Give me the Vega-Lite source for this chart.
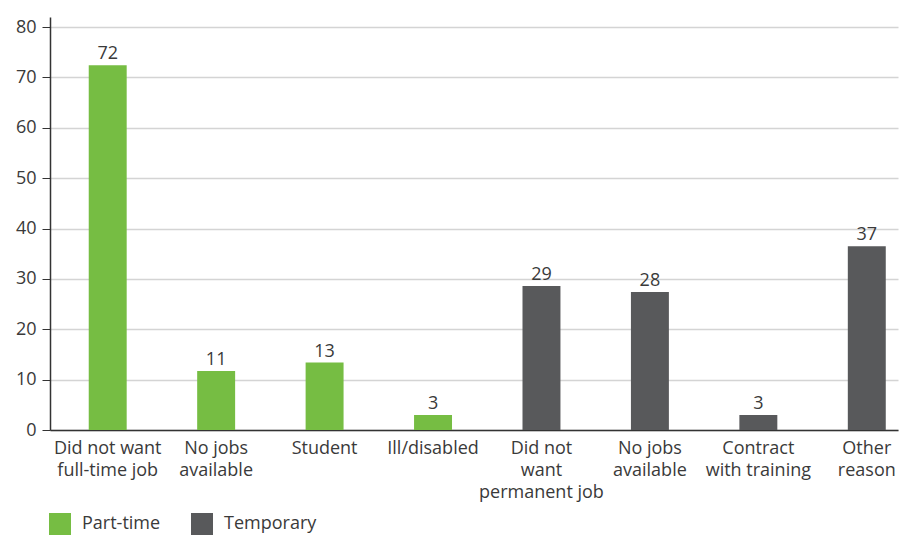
{
  "$schema": "https://vega.github.io/schema/vega-lite/v6.json",
  "autosize": "none",
  "width": 848,
  "height": 413,
  "padding": {"left": 50, "top": 17, "right": 3, "bottom": 105},
  "background": "white",
  "data": {
    "values": [
      {"key": "P1: Did not want|full-time job", "type": "Part-time", "value": 72.4, "label": "72"},
      {"key": "P2: No jobs|available", "type": "Part-time", "value": 11.7, "label": "11"},
      {"key": "P3: Student", "type": "Part-time", "value": 13.4, "label": "13"},
      {"key": "P4: Ill/disabled", "type": "Part-time", "value": 3.0, "label": "3"},
      {"key": "T1: Did not|want|permanent job", "type": "Temporary", "value": 28.6, "label": "29"},
      {"key": "T2: No jobs|available", "type": "Temporary", "value": 27.4, "label": "28"},
      {"key": "T3: Contract|with training", "type": "Temporary", "value": 3.0, "label": "3"},
      {"key": "T4: Other|reason", "type": "Temporary", "value": 36.5, "label": "37"}
    ]
  },
  "encoding": {
    "x": {
      "field": "key",
      "type": "nominal",
      "sort": null,
      "scale": {"paddingInner": 0.65, "paddingOuter": 0.235, "align": 0.76},
      "axis": {
        "title": null,
        "labelAngle": 0,
        "ticks": false,
        "labelExpr": "split(split(datum.value, ': ')[1], '|')",
        "labelFont": "Open Sans",
        "labelFontSize": 18,
        "labelColor": "#3a3a3a",
        "labelLineHeight": 22,
        "labelPadding": 9,
        "labelBaseline": "top",
        "domainColor": "#333333",
        "domainWidth": 1.5,
        "grid": false
      }
    },
    "y": {
      "field": "value",
      "type": "quantitative",
      "scale": {"domain": [0, 82], "nice": false},
      "axis": {
        "title": null,
        "values": [0, 10, 20, 30, 40, 50, 60, 70, 80],
        "labelFont": "Open Sans",
        "labelFontSize": 18,
        "labelColor": "#3a3a3a",
        "labelPadding": 6,
        "tickSize": 8,
        "tickColor": "#333333",
        "domainColor": "#333333",
        "domainWidth": 1.5,
        "grid": true,
        "gridColor": "#d4d4d4",
        "gridWidth": 1.5
      }
    }
  },
  "layer": [
    {
      "mark": {"type": "bar"},
      "encoding": {
        "color": {
          "field": "type",
          "type": "nominal",
          "scale": {"domain": ["Part-time", "Temporary"], "range": ["#76bd43", "#58595b"]},
          "legend": {
            "title": null,
            "orient": "none",
            "direction": "horizontal",
            "legendX": -1,
            "legendY": 496,
            "symbolType": "square",
            "symbolSize": 484,
            "symbolStrokeWidth": 0,
            "symbolOpacity": 1,
            "labelFont": "Open Sans",
            "labelFontSize": 18,
            "labelColor": "#3a3a3a",
            "labelOffset": 11,
            "columnPadding": 30
          }
        }
      }
    },
    {
      "mark": {"type": "text", "baseline": "alphabetic", "dy": -6, "font": "Open Sans", "fontSize": 18, "color": "#3a3a3a"},
      "encoding": {
        "text": {"field": "label"}
      }
    }
  ],
  "config": {
    "view": {"stroke": null}
  }
}
